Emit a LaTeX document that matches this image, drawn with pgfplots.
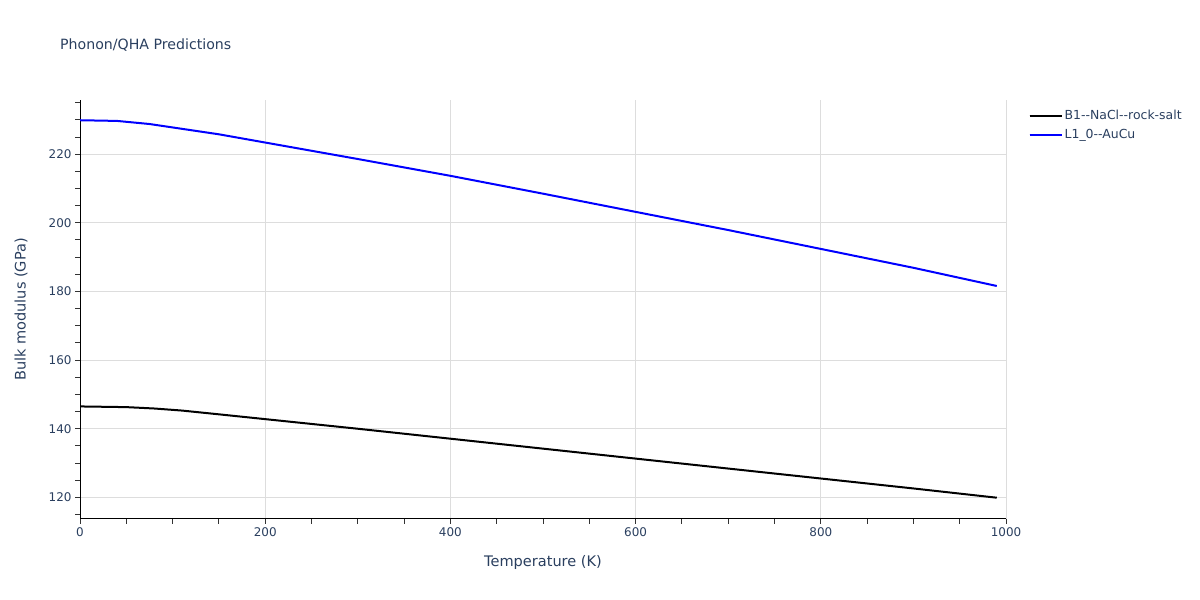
\documentclass[border=0pt]{standalone}
\usepackage{fontspec}
\setmainfont{DejaVu Sans}
\usepackage{pgfplots}
\pgfplotsset{compat=1.18}
\definecolor{plotlytext}{HTML}{2A3F5F}
\definecolor{gridgray}{HTML}{DDDDDD}

\begin{document}
\begin{tikzpicture}[x=1bp,y=1bp]
  \path[use as bounding box] (0,0) rectangle (1200,600);
  \node[anchor=west, text=plotlytext, font=\fontsize{14.2}{16}\selectfont, inner sep=0pt] at (60,555) {Phonon/QHA Predictions};
  \begin{axis}[
    at={(80bp,81bp)}, anchor=south west,
    width=926bp, height=419bp, scale only axis,
    xmin=0, xmax=1000,
    ymin=113.7, ymax=235.8,
    xtick={0,200,...,1000},
    minor xtick={50,100,...,950},
    ytick={120,140,...,220},
    minor ytick={115,125,130,135,145,150,155,165,170,175,185,190,195,205,210,215,225,230,235},
    axis lines*=left,
    axis line style={black, line width=1bp},
    tick align=outside,
    major tick length=5bp, minor tick length=5bp,
    tick style={black!80, line width=1bp},
    xmajorgrids=true, ymajorgrids=true,
    grid style={gridgray, line width=1bp},
    ticklabel style={text=plotlytext, font=\fontsize{12}{14}\selectfont},
    /pgf/number format/assume math mode=true,
    /pgf/number format/1000 sep={},
    xlabel={Temperature (K)},
    ylabel={Bulk modulus (GPa)},
    label style={text=plotlytext, font=\fontsize{14.6}{16}\selectfont},
    xlabel style={at={(axis description cs:0.5,0)}, anchor=center, yshift=-44bp},
    every axis y label/.append style={at={(-59bp,209.5bp)}, anchor=center},
    legend style={at={(rel axis cs:1.021,0.985)}, anchor=north west, draw=none,
      font=\fontsize{12.5}{14}\selectfont, text=plotlytext, row sep=4bp,
      legend cell align=left},
    legend image code/.code={\path (0bp,0bp) -- (32bp,0bp);
      \draw[#1, line width=2bp] (0bp,0bp) -- (28bp,0bp);},
  ]
    \addplot[black, line width=2bp] coordinates {
      (0,146.5) (50,146.3) (80,145.9) (110,145.3) (150,144.2) (200,142.8)
      (300,140.0) (400,137.1) (500,134.2) (600,131.3) (700,128.4)
      (800,125.5) (900,122.6) (990,119.9)
    };
    \addlegendentry{B1{-}{-}NaCl{-}{-}rock-salt}
    \addplot[blue, line width=2bp] coordinates {
      (0,229.9) (40,229.7) (75,228.8) (110,227.4) (150,225.8) (200,223.4)
      (300,218.6) (400,213.7) (500,208.5) (600,203.2) (700,197.9)
      (800,192.4) (900,186.9) (990,181.6)
    };
    \addlegendentry{L1\_0{-}{-}AuCu}
  \end{axis}
\end{tikzpicture}
\end{document}
